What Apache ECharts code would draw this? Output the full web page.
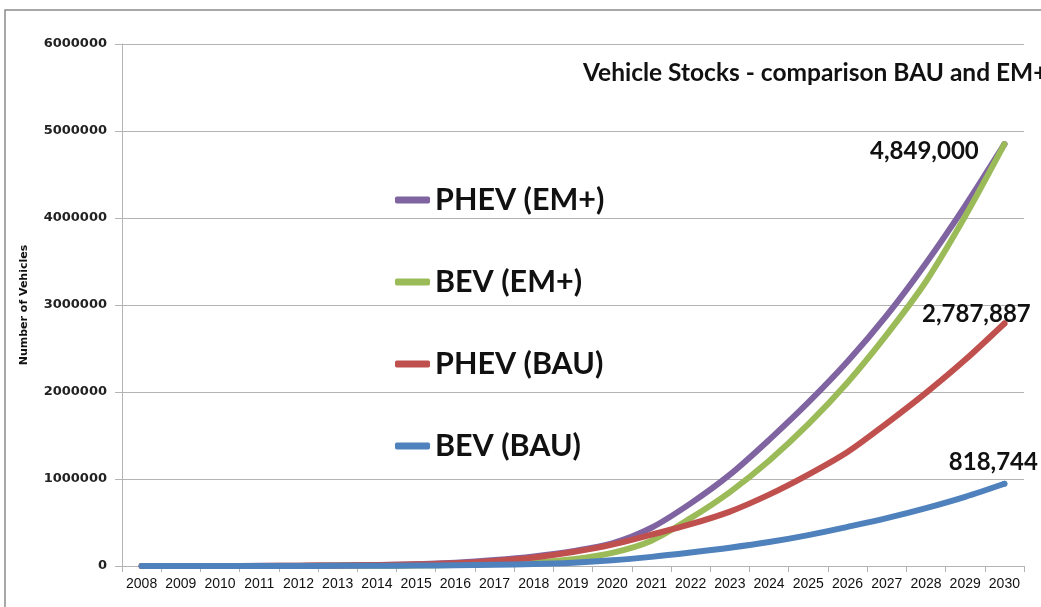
<!DOCTYPE html>
<html>
<head>
<meta charset="utf-8">
<script src="https://cdn.jsdelivr.net/npm/echarts@6/dist/echarts.min.js"></script>
<style>
  html, body { margin: 0; padding: 0; background: #ffffff; }
  #chart { width: 1041px; height: 607px; }
</style>
</head>
<body>
<div id="chart"></div>
<script>
const years = ['2008','2009','2010','2011','2012','2013','2014','2015','2016','2017','2018','2019','2020','2021','2022','2023','2024','2025','2026','2027','2028','2029','2030'];

const phevEM = [0, 0, 0, 2000, 4000, 7000, 12000, 20000, 38000, 68000, 110000, 170000, 260000, 440000, 720000, 1050000, 1450000, 1880000, 2350000, 2880000, 3480000, 4140000, 4849000];
const bevEM  = [0, 0, 0, 0, 1000, 2000, 3000, 6000, 12000, 22000, 40000, 78000, 150000, 290000, 550000, 850000, 1210000, 1630000, 2110000, 2660000, 3270000, 4020000, 4849000];
const phevBAU = [0, 0, 0, 1000, 3000, 6000, 11000, 19000, 33000, 58000, 98000, 160000, 245000, 360000, 480000, 625000, 820000, 1050000, 1310000, 1640000, 1990000, 2370000, 2787887];
const bevBAU = [0, 0, 0, 0, 1000, 1500, 3000, 5000, 8000, 14000, 22000, 38000, 65000, 105000, 155000, 210000, 275000, 355000, 450000, 550000, 665000, 795000, 945000];

const seriesNames = ['PHEV (EM+)', 'BEV (EM+)', 'PHEV (BAU)', 'BEV (BAU)'];
const endLabels = ['4,849,000', null, '2,787,887', '818,744'];
const yTicks = [0, 1000000, 2000000, 3000000, 4000000, 5000000, 6000000];
const chartTitle = 'Vehicle Stocks - comparison BAU and EM+';
const yAxisTitle = 'Number of Vehicles';

const colors = ['#8064A2', '#9BBB59', '#C0504D', '#4F81BD'];
const labelOffsets = [[-80, 7], null, [-28, -9], [-11, -22]];
const allData = [phevEM, bevEM, phevBAU, bevBAU];

const chart = echarts.init(document.getElementById('chart'), null, { renderer: 'canvas' });

function buildData(arr, si) {
  return arr.map((v, i) => {
    if (i === arr.length - 1 && endLabels[si]) {
      return {
        value: v,
        symbol: 'circle',
        symbolSize: 6,
        label: {
          show: true,
          position: 'inside',
          offset: labelOffsets[si],
          formatter: endLabels[si],
          fontFamily: 'Lato, sans-serif',
          fontWeight: 'bold',
          fontSize: 24,
          color: '#111'
        }
      };
    }
    return v;
  });
}

const option = {
  backgroundColor: '#ffffff',
  animation: false,
  color: colors,
  title: {
    text: chartTitle,
    left: 578,
    top: 56,
    textStyle: { fontFamily: 'Lato, sans-serif', fontWeight: 'bold', fontSize: 24.5, color: '#111' }
  },
  legend: {
    orient: 'vertical',
    left: 390,
    top: 177,
    itemGap: 46,
    itemWidth: 35,
    itemHeight: 7,
    icon: 'roundRect',
    textStyle: { fontFamily: 'Lato, sans-serif', fontWeight: 'bold', fontSize: 30.5, lineHeight: 36, color: '#111' },
    data: seriesNames
  },
  grid: { left: 122, right: 17, top: 44, bottom: 41, containLabel: false },
  xAxis: {
    type: 'category',
    data: years,
    boundaryGap: true,
    axisLine: { lineStyle: { color: '#b3b3b3', width: 1 } },
    axisTick: { show: true, alignWithLabel: false, length: 6, lineStyle: { color: '#b3b3b3' } },
    axisLabel: { interval: 0, margin: 11, fontFamily: '"Liberation Sans Narrow", sans-serif', fontSize: 14, color: '#111' },
    splitLine: { show: false }
  },
  yAxis: {
    type: 'value',
    min: yTicks[0],
    max: yTicks[yTicks.length - 1],
    interval: 1000000,
    name: yAxisTitle,
    nameLocation: 'middle',
    nameGap: 92,
    nameRotate: 90,
    nameTextStyle: { fontFamily: '"DejaVu Sans", sans-serif', fontWeight: 'bold', fontSize: 11, color: '#111' },
    axisLine: { show: true, lineStyle: { color: '#b3b3b3', width: 1 } },
    axisTick: { show: true, length: 7, lineStyle: { color: '#b3b3b3' } },
    axisLabel: {
      margin: 15,
      formatter: (v) => String(v),
      fontFamily: '"DejaVu Sans", sans-serif', fontWeight: 'bold', fontSize: 13, color: '#222'
    },
    splitLine: { show: true, lineStyle: { color: '#b3b3b3', width: 1 } }
  },
  graphic: [
    {
      type: 'rect',
      shape: { x: 5, y: 10, width: 1100, height: 700 },
      style: { fill: 'none', stroke: '#8a8a8a', lineWidth: 1.5 },
      z: -1,
      silent: true
    }
  ],
  series: allData.map((arr, si) => ({
    name: seriesNames[si],
    type: 'line',
    data: buildData(arr, si),
    smooth: 0.3,
    symbol: 'none',
    showSymbol: true,
    showAllSymbol: true,
    lineStyle: { width: 6, color: colors[si], cap: 'round', join: 'round' },
    itemStyle: { color: colors[si] },
    z: 2 + si
  }))
};

chart.setOption(option);
</script>
</body>
</html>
